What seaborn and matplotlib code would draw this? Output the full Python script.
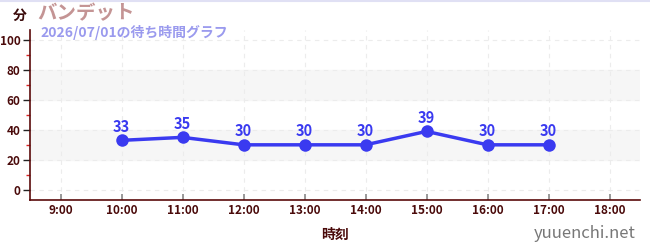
import matplotlib
matplotlib.use("Agg")
import matplotlib.pyplot as plt
import seaborn as sns
import pandas as pd
from matplotlib.ticker import MultipleLocator

hours = [10, 11, 12, 13, 14, 15, 16, 17]
waits = [33, 35, 30, 30, 30, 39, 30, 30]
xticks = [9, 10, 11, 12, 13, 14, 15, 16, 17, 18]
xticklabels = ["9:00", "10:00", "11:00", "12:00", "13:00", "14:00", "15:00", "16:00", "17:00", "18:00"]
yticks = [0, 20, 40, 60, 80, 100]
title = "バンデット"
subtitle = "2026/07/01の待ち時間グラフ"

sns.set_theme(style="white")
plt.rcParams['font.family'] = ['Noto Sans CJK JP', 'DejaVu Sans']

df = pd.DataFrame({"hour": hours, "wait": waits})

fig = plt.figure(figsize=(6.5, 2.5), dpi=100)
ax = fig.add_axes([30/650, 1-200/250, 610/650, 170/250])

ax.axhspan(20, 40, color="#f6f6f6", zorder=0)
ax.axhspan(60, 80, color="#f6f6f6", zorder=0)

line_color = "#3a3af0"
sns.lineplot(data=df, x="hour", y="wait", ax=ax, color=line_color, linewidth=2.5,
             marker="o", markersize=9, markeredgewidth=0, zorder=3)
for h, w in zip(hours, waits):
    ax.annotate(str(w), (h, w), xytext=(0, 4), textcoords="offset points",
                ha="center", va="bottom", color=line_color, fontsize=10.5, fontweight="bold")

ax.set_xlim(8.5, 18.5)
ax.set_ylim(-7, 107)
ax.set_xticks(xticks)
ax.set_xticklabels(xticklabels)
ax.set_yticks(yticks)
ax.yaxis.set_minor_locator(MultipleLocator(10))
ax.grid(True, which="major", color="#ececec", linestyle=(0, (4, 4)), linewidth=0.8)
ax.set_axisbelow(True)

for s in ["top", "right"]:
    ax.spines[s].set_visible(False)
for s in ["left", "bottom"]:
    ax.spines[s].set_color("#5a0a0a")
    ax.spines[s].set_linewidth(1.2)

ax.tick_params(axis="y", which="major", length=5, width=1, color="#222222",
               labelsize=8.5, labelcolor="#4a0a0a", pad=2, left=True)
ax.tick_params(axis="y", which="minor", length=3, width=1, color="#dd2222", left=True)
ax.tick_params(axis="x", which="major", length=4, width=1.2, color="#888888",
               labelsize=8.5, labelcolor="#4a0a0a", pad=3, bottom=True, direction="in")
for lab in ax.get_xticklabels() + ax.get_yticklabels():
    lab.set_fontweight("bold")

ax.set_xlabel("時刻", fontsize=10, fontweight="bold", color="#4a0a0a", labelpad=8)
ax.set_ylabel("")

fig.text(20/650, 1-16/250, "分", fontsize=10, fontweight="bold", color="#3a0a0a", ha="center", va="center")
fig.text(37/650, 1-14/250, title, fontsize=14, fontweight="bold", color="#c49494", ha="left", va="center")
fig.text(40/650, 1-32/250, subtitle, fontsize=10, fontweight="bold", color="#9a9aee", ha="left", va="center")
fig.text(636/650, 1-233/250, "yuuenchi.net", fontsize=12, color="#777777", ha="right", va="center")
fig.add_artist(plt.Line2D([0, 1], [1-1/250, 1-1/250], color="#e0e0f4", linewidth=1.5))

fig.savefig("out.png", dpi=100)
